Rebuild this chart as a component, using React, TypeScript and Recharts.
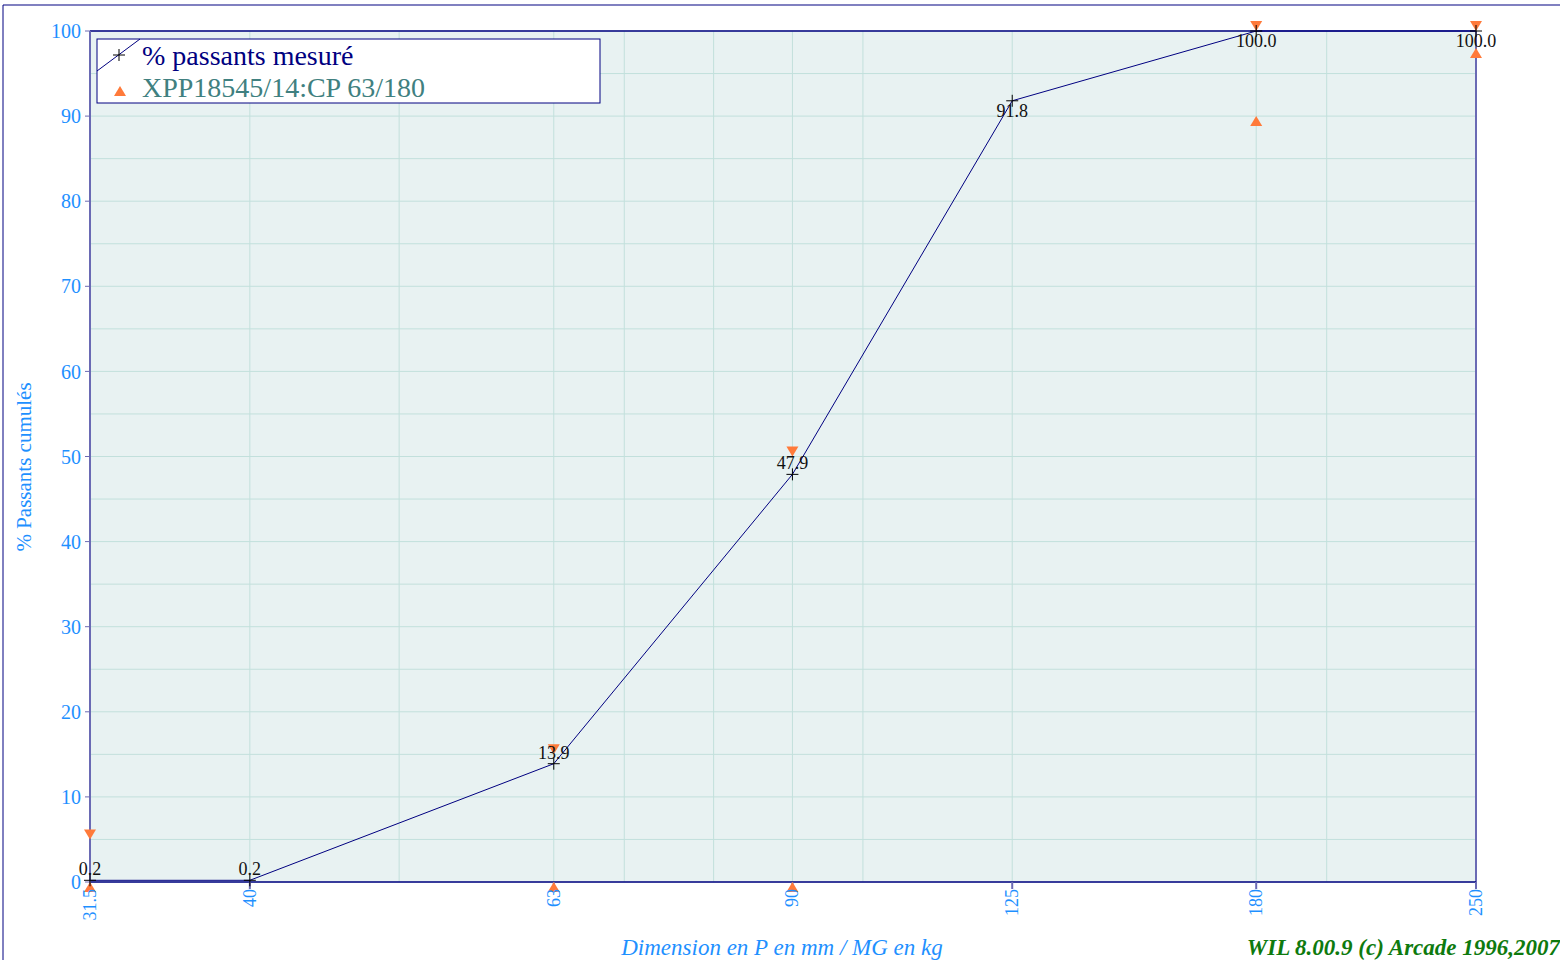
import {
  ComposedChart,
  Line,
  Scatter,
  XAxis,
  YAxis,
  CartesianGrid,
  ReferenceLine,
  LabelList,
} from "recharts";

// sieve sizes (mm) and measured cumulative passing (%)
const sizes = [31.5, 40, 63, 90, 125, 180, 250];
const passing = [0.2, 0.2, 13.9, 47.9, 91.8, 100, 100];

// spec XPP18545/14 : CP 63/180 limits
const specSizes = [31.5, 63, 90, 180, 250];
const specUpper = [5, 15, 50, 100, 100];
const specLower = [0, 0, 0, 90, 98];

const xTicks = [31.5, 40, 63, 90, 125, 180, 250];
const xGrid = [31.5, 40, 50, 63, 70, 80, 90, 100, 125, 180, 200, 250];
const yTicks = [0, 10, 20, 30, 40, 50, 60, 70, 80, 90, 100];
const yGrid = [0, 5, 10, 15, 20, 25, 30, 35, 40, 45, 50, 55, 60, 65, 70, 75, 80, 85, 90, 95, 100];

const measured = sizes.map((s, i) => ({ size: s, pct: passing[i] }));
const upper = specSizes.map((s, i) => ({ size: s, pct: specUpper[i] }));
const lower = specSizes.map((s, i) => ({ size: s, pct: specLower[i] }));

const BLUE = "#1e90ff";
const NAVY = "#000080";
const LAVENDER = "#6a6ab4";
const ORANGE = "#ff7a3a";
const FONT = '"Liberation Serif", "DejaVu Serif", serif';

const XTick = (props: any) => {
  const { x, y, payload } = props;
  return (
    <text
      x={x}
      y={y}
      transform={`rotate(-90 ${x} ${y})`}
      textAnchor="end"
      dominantBaseline="central"
      fill={BLUE}
      fontSize={18}
      fontFamily={FONT}
    >
      {payload.value}
    </text>
  );
};

const cross = (p: any) => {
  const { cx, cy, index } = p;
  if (cx == null || cy == null) return <g key={index} />;
  return (
    <path
      key={index}
      d={`M${cx - 6},${cy}h12M${cx},${cy - 6}v12`}
      stroke="#000"
      strokeWidth={1}
      fill="none"
    />
  );
};

const downTri = (p: any) => {
  const { cx, cy } = p;
  return <polygon points={`${cx - 6},${cy - 10} ${cx + 6},${cy - 10} ${cx},${cy}`} fill={ORANGE} />;
};

const upTri = (p: any) => {
  const { cx, cy } = p;
  return <polygon points={`${cx - 6},${cy + 10} ${cx + 6},${cy + 10} ${cx},${cy}`} fill={ORANGE} />;
};

const renderLabel = (p: any) => {
  const { x, y, value } = p;
  const below = Number(value) >= 90;
  return (
    <text
      x={x}
      y={below ? y + 16 : y - 5}
      textAnchor="middle"
      fontSize={18}
      fontFamily={FONT}
      fill="#111"
    >
      {Number(value).toFixed(1)}
    </text>
  );
};

export default function App() {
  return (
    <div
      style={{
        position: "absolute",
        left: 0,
        top: 0,
        width: 1560,
        height: 960,
        background: "#fff",
        overflow: "hidden",
        fontFamily: FONT,
      }}
    >
      <ComposedChart
        width={1560}
        height={960}
        margin={{ top: 31, right: 84, bottom: 38, left: 0 }}
      >
        <CartesianGrid
          fill="#e8f2f2"
          stroke="#c2e0dc"
          strokeWidth={1}
          horizontalValues={yGrid}
          verticalValues={xGrid}
        />
        <XAxis
          dataKey="size"
          type="number"
          scale="log"
          domain={[31.5, 250]}
          ticks={xTicks}
          interval={0}
          height={40}
          axisLine={{ stroke: NAVY, strokeWidth: 1.5 }}
          tickLine={{ stroke: LAVENDER, strokeWidth: 2 }}
          tickSize={7}
          tickMargin={0}
          tick={<XTick />}
        />
        <YAxis
          dataKey="pct"
          type="number"
          domain={[0, 100]}
          ticks={yTicks}
          interval={0}
          width={90}
          axisLine={{ stroke: LAVENDER, strokeWidth: 2 }}
          tickLine={{ stroke: LAVENDER, strokeWidth: 1 }}
          tickSize={5}
          tickMargin={4}
          tick={{ fill: BLUE, fontSize: 20, fontFamily: FONT }}
        />
        <ReferenceLine y={100} stroke={NAVY} strokeWidth={1.5} />
        <ReferenceLine x={250} stroke={LAVENDER} strokeWidth={2} />
        <Scatter data={upper} dataKey="pct" shape={downTri} isAnimationActive={false} />
        <Scatter data={lower} dataKey="pct" shape={upTri} isAnimationActive={false} />
        <Line
          data={measured}
          dataKey="pct"
          type="linear"
          stroke={NAVY}
          strokeWidth={1}
          dot={cross}
          activeDot={false}
          isAnimationActive={false}
        >
          <LabelList dataKey="pct" content={renderLabel} />
        </Line>
      </ComposedChart>

      <svg
        width={1560}
        height={960}
        style={{ position: "absolute", left: 0, top: 0, pointerEvents: "none" }}
        fontFamily={FONT}
      >
        {/* outer frame */}
        <line x1={3} y1={5} x2={1560} y2={5} stroke="#8080c0" strokeWidth={2} />
        <line x1={3} y1={5} x2={3} y2={960} stroke={NAVY} strokeWidth={1} />

        {/* legend */}
        <rect x={97} y={39} width={503} height={64} fill="#fff" stroke={NAVY} strokeWidth={1} />
        <line x1={97} y1={71} x2={140} y2={39} stroke={NAVY} strokeWidth={1} />
        <path d="M113,55h12M119,49v12" stroke="#000" strokeWidth={1} />
        <text x={142} y={65} fontSize={28} fill={NAVY}>% passants mesuré</text>
        <polygon points="114,96 126,96 120,86" fill={ORANGE} />
        <text x={142} y={97} fontSize={28} fill="#408080">XPP18545/14:CP 63/180</text>

        {/* axis titles */}
        <text
          x={24}
          y={467}
          transform="rotate(-90 24 467)"
          textAnchor="middle"
          dominantBaseline="central"
          fontSize={21}
          fill={BLUE}
        >
          % Passants cumulés
        </text>
        <text x={782} y={955} textAnchor="middle" fontSize={23} fontStyle="italic" fill={BLUE}>
          Dimension en P en mm / MG en kg
        </text>
        <text
          x={1560}
          y={955}
          textAnchor="end"
          fontSize={23}
          fontStyle="italic"
          fontWeight="bold"
          fill="#0e7a0e"
        >
          WIL 8.00.9 (c) Arcade 1996,2007
        </text>
      </svg>
    </div>
  );
}
